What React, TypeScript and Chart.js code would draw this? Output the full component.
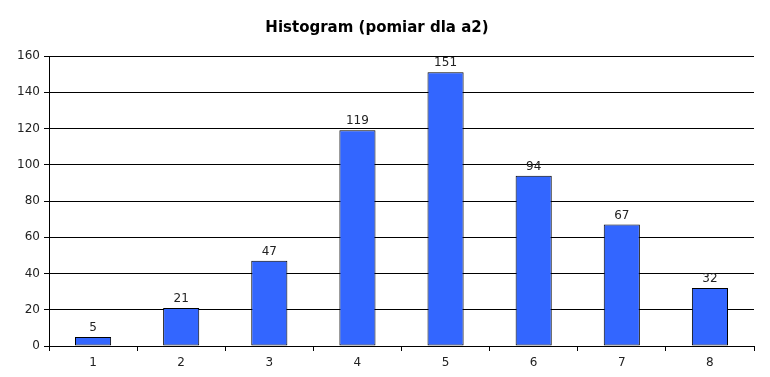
import React, { useEffect, useRef } from "react";
import { Chart, registerables } from "chart.js";

Chart.register(...registerables);

const categories = ["1", "2", "3", "4", "5", "6", "7", "8"];
const counts = [5, 21, 47, 119, 151, 94, 67, 32];
const titleText = "Histogram (pomiar dla a2)";
const yMin = 0;
const yMax = 160;
const yStep = 20;

const FONT = "'DejaVu Sans', sans-serif";

const valueLabels = {
  id: "valueLabels",
  afterDatasetsDraw(chart: any) {
    const ctx = chart.ctx;
    const meta = chart.getDatasetMeta(0);
    ctx.save();
    ctx.font = `12px ${FONT}`;
    ctx.fillStyle = "#222";
    ctx.textAlign = "center";
    ctx.textBaseline = "alphabetic";
    meta.data.forEach((bar: any, i: number) => {
      const v = chart.data.datasets[0].data[i];
      ctx.fillText(String(v), bar.x, bar.y - 6);
    });
    ctx.restore();
  },
};

export default function App() {
  const ref = useRef<HTMLCanvasElement | null>(null);
  useEffect(() => {
    document.body.style.margin = "0";
    const chart = new Chart(ref.current!, {
      type: "bar",
      data: {
        labels: categories,
        datasets: [
          {
            data: counts,
            backgroundColor: "#3366FF",
            borderColor: "#000",
            borderWidth: 1,
            borderSkipped: false,
            inflateAmount: 0,
            categoryPercentage: 1,
            barPercentage: 0.41,
          },
        ],
      },
      options: {
        animation: false,
        responsive: false,
        maintainAspectRatio: false,
        layout: { padding: { left: 0, right: 16, top: 0, bottom: 0 } },
        plugins: {
          legend: { display: false },
          tooltip: { enabled: false },
          title: {
            display: true,
            text: titleText,
            color: "#000",
            font: { family: FONT, size: 15, weight: "bold", lineHeight: 1.2 },
            padding: { top: 19, bottom: 19 },
          },
        },
        scales: {
          x: {
            offset: true,
            grid: {
              offset: true,
              drawOnChartArea: false,
              drawTicks: true,
              tickLength: 5,
              color: "#000",
            },
            border: { display: true, color: "#000", width: 1 },
            ticks: {
              color: "#222",
              font: { family: FONT, size: 12 },
              padding: 5,
            },
            afterFit(scale: any) {
              scale.height = 31;
            },
          },
          y: {
            min: yMin,
            max: yMax,
            grid: {
              color: "#000",
              lineWidth: 1,
              tickLength: 5,
            },
            border: { display: true, color: "#000", width: 1 },
            ticks: {
              stepSize: yStep,
              color: "#222",
              font: { family: FONT, size: 12 },
              padding: 4,
            },
            afterFit(scale: any) {
              scale.width = 49;
            },
          },
        },
      },
      plugins: [valueLabels],
    });
    return () => chart.destroy();
  }, []);
  return (
    <div style={{ position: "absolute", left: 0, top: 0, width: 770, height: 377, background: "#fff" }}>
      <canvas ref={ref} width={770} height={377} style={{ width: 770, height: 377, display: "block" }} />
    </div>
  );
}
